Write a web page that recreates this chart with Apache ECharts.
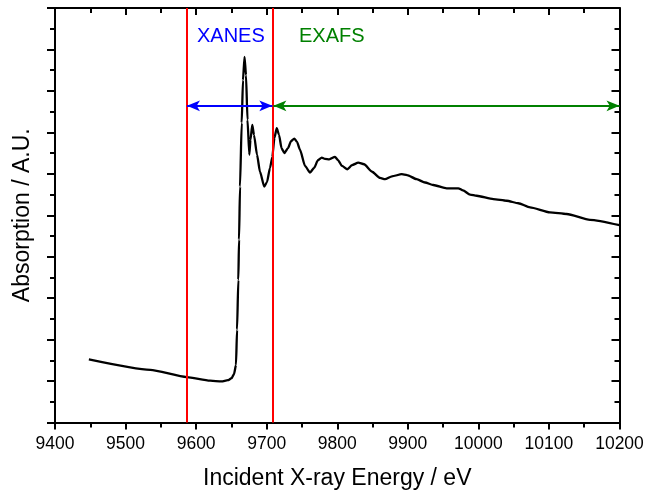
<!DOCTYPE html>
<html>
<head>
<meta charset="utf-8">
<script src="https://cdn.jsdelivr.net/npm/echarts@6/dist/echarts.min.js"></script>
<style>html,body{margin:0;padding:0;background:#fff}#c{width:645px;height:491px}</style>
</head>
<body>
<div id="c"></div>
<script>
// Energy (eV)
var energy = [9448,9535,9586.6,9619.7,9636,9645,9650.4,9653.7,9656.5,9658,9659.8,9660.8,9662.2,9664.6,9666.4,9668.6,9670.7,9672.8,9675.4,9677,9679.6,9682,9686.3,9690.5,9696.6,9700.4,9704.7,9708,9711,9714.2,9717.5,9721,9725,9730.2,9734.5,9739.1,9743,9747.2,9754.3,9761.4,9767.1,9772.7,9778,9782.6,9788.7,9796.8,9801.1,9806.7,9814.3,9821,9829.8,9838,9849.3,9860.6,9867.7,9877.6,9891.4,9898.9,9912.6,9924.4,9936.1,9955.1,9971.6,9978.2,9988.2,9997.6,10021.2,10040.2,10056.6,10073.2,10101.5,10125.2,10158.2,10200];
// Absorption (A.U.)
var absorption = [1.52,1.27,1.095,1.01,0.99,1.02,1.07,1.17,1.39,2.24,3.44,4.41,5.69,7.23,8.26,8.82,8.38,7.30,6.46,6.82,7.18,6.94,6.46,6.05,5.69,5.80,6.14,6.41,6.87,7.10,6.94,6.62,6.50,6.62,6.79,6.85,6.77,6.58,6.19,6.03,6.14,6.33,6.39,6.36,6.35,6.41,6.33,6.19,6.11,6.21,6.27,6.23,6.05,5.90,5.87,5.94,5.99,5.97,5.87,5.79,5.73,5.65,5.65,5.60,5.50,5.47,5.39,5.35,5.29,5.19,5.07,5.03,4.89,4.76];
// Region boundaries (eV) and arrow level
var boundaries = [9587, 9709];
var xanesRange = [9587, 9708];
var exafsRange = [9709.5, 10200];
var arrowLevel = 7.64;
var xTicks = {min: 9400, max: 10200, interval: 100};
var yTicks = {min: 0, max: 10, interval: 1};

var data = energy.map(function (e, i) { return [e, absorption[i]]; });
var font = 'Liberation Sans, Arial, Helvetica, sans-serif';

var chart = echarts.init(document.getElementById('c'), null, {renderer: 'canvas'});
var axisLine = {show: true, onZero: false, lineStyle: {color: '#000', width: 2}};
chart.setOption({
  animation: false,
  backgroundColor: '#fff',
  grid: {left: 55, right: 25.5, top: 8, bottom: 68.5, containLabel: false, outerBoundsMode: 'none'},
  xAxis: [{
    type: 'value', position: 'bottom', min: xTicks.min, max: xTicks.max, interval: xTicks.interval,
    axisLine: axisLine,
    axisTick: {show: true, inside: false, length: 7, lineStyle: {color: '#000', width: 2}},
    minorTick: {show: true, splitNumber: 2, length: 5, lineStyle: {color: '#000', width: 2}},
    splitLine: {show: false},
    axisLabel: {show: true, color: '#000', fontSize: 17.5, fontFamily: font, margin: 13,
      formatter: function (v) { return String(v); }},
    name: 'Incident X-ray Energy / eV', nameLocation: 'middle', nameGap: 45,
    nameTextStyle: {color: '#000', fontSize: 23, fontFamily: font}
  }, {
    type: 'value', position: 'top', min: xTicks.min, max: xTicks.max, interval: xTicks.interval,
    axisLine: axisLine,
    axisTick: {show: true, inside: true, length: 7, lineStyle: {color: '#000', width: 2}},
    minorTick: {show: true, splitNumber: 2, length: 5, lineStyle: {color: '#000', width: 2}},
    splitLine: {show: false}, axisLabel: {show: false}
  }],
  yAxis: [{
    type: 'value', position: 'left', min: yTicks.min, max: yTicks.max, interval: yTicks.interval,
    axisLine: axisLine,
    axisTick: {show: true, inside: false, length: 8, lineStyle: {color: '#000', width: 2}},
    minorTick: {show: true, splitNumber: 2, length: 5, lineStyle: {color: '#000', width: 2}},
    splitLine: {show: false}, axisLabel: {show: false},
    name: 'Absorption / A.U.', nameLocation: 'middle', nameGap: 21, nameRotate: 90,
    nameTextStyle: {color: '#000', fontSize: 23, fontFamily: font}
  }, {
    type: 'value', position: 'right', min: yTicks.min, max: yTicks.max, interval: yTicks.interval,
    axisLine: axisLine,
    axisTick: {show: true, inside: true, length: 8, lineStyle: {color: '#000', width: 2}},
    minorTick: {show: true, splitNumber: 2, length: 5, lineStyle: {color: '#000', width: 2}},
    splitLine: {show: false}, axisLabel: {show: false}
  }],
  series: [{
    type: 'line', xAxisIndex: 0, yAxisIndex: 0, data: data,
    showSymbol: false, smooth: 0.2, smoothMonotone: 'x',
    lineStyle: {color: '#000', width: 2.3}, z: 3,
    markLine: {
      silent: true, animation: false, symbol: ['none', 'none'],
      label: {show: false},
      lineStyle: {color: '#ff0000', width: 2, type: 'solid'},
      data: boundaries.map(function (b) { return {xAxis: b}; })
    }
  }, {
    type: 'line', xAxisIndex: 0, yAxisIndex: 0, data: [], z: 4,
    markLine: {
      silent: true, animation: false, symbol: ['arrow', 'arrow'], symbolSize: [8, 13],
      label: {show: false},
      data: [
        [{coord: [xanesRange[0], arrowLevel], lineStyle: {color: '#0000ff', width: 2, type: 'solid'}},
         {coord: [xanesRange[1], arrowLevel]}],
        [{coord: [exafsRange[0], arrowLevel], lineStyle: {color: '#008000', width: 2, type: 'solid'}},
         {coord: [exafsRange[1], arrowLevel]}]
      ]
    }
  }],
  graphic: [
    {type: 'text', left: 197, top: 26, style: {text: 'XANES', fill: '#0000ff', font: '20px ' + font}},
    {type: 'text', left: 299, top: 26, style: {text: 'EXAFS', fill: '#008000', font: '20px ' + font}}
  ]
});
</script>
</body>
</html>
